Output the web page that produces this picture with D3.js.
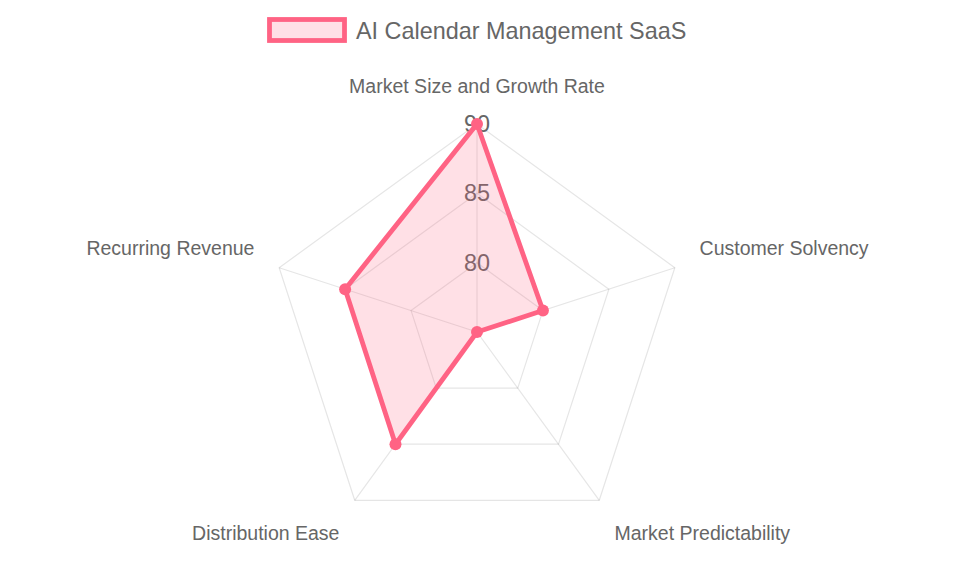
<!DOCTYPE html>
<html>
<head>
<meta charset="utf-8">
<script src="https://cdn.jsdelivr.net/npm/d3@7"></script>
<style>
  html, body { margin: 0; padding: 0; background: #fff; }
  svg { display: block; font-family: "Liberation Sans", Arial, Helvetica, sans-serif; }
</style>
</head>
<body>
<div id="chart"></div>
<script>
// chart data
const seriesName = "AI Calendar Management SaaS";
const categories = ["Market Size and Growth Rate", "Customer Solvency", "Market Predictability", "Distribution Ease", "Recurring Revenue"];
const values = [90, 80, 75, 85, 85];
const ringTicks = [80, 85, 90];
const scaleMin = 75;
const scaleMax = 90;

// SVG definitions
const width = 955;
const height = 573;
const cx = 477;
const cy = 332;
const radius = 208;
const labelGap = 26;

const lineColor = "rgb(255, 99, 132)";
const fillColor = "rgba(255, 99, 132, 0.2)";
const gridColor = "rgba(0, 0, 0, 0.1)";
const textColor = "#666";

const svg = d3.select("#chart").append("svg")
  .attr("width", width)
  .attr("height", height);

const g = svg.append("g")
  .attr("transform", `translate(${cx}, ${cy})`);

// scales
const rScale = d3.scaleLinear().domain([scaleMin, scaleMax]).range([0, radius]);
const angle = d3.scaleLinear().domain([0, categories.length]).range([0, 2 * Math.PI]);

const pointAt = (i, r) => [r * Math.sin(angle(i)), -r * Math.cos(angle(i))];

// grid rings
ringTicks.forEach(t => {
  g.append("polygon")
    .attr("points", categories.map((c, i) => pointAt(i, rScale(t)).join(",")).join(" "))
    .attr("fill", "none")
    .attr("stroke", gridColor)
    .attr("stroke-width", 1.2);
});

// angle lines
categories.forEach((c, i) => {
  const [x, y] = pointAt(i, rScale(scaleMax));
  g.append("line")
    .attr("x1", 0).attr("y1", 0)
    .attr("x2", x).attr("y2", y)
    .attr("stroke", gridColor)
    .attr("stroke-width", 1.2);
});

// tick labels (drawn under the dataset)
g.selectAll(".tick-label")
  .data(ringTicks)
  .join("text")
  .attr("class", "tick-label")
  .attr("x", 0)
  .attr("y", d => -rScale(d))
  .attr("text-anchor", "middle")
  .attr("dominant-baseline", "central")
  .attr("font-size", "23.4px")
  .attr("fill", textColor)
  .text(d => d);

// point labels
const lineH = 19.5 * 1.2;
categories.forEach((c, i) => {
  const deg = (angle(i) * 180 / Math.PI) % 360;
  const [x, y] = pointAt(i, radius + labelGap);
  let anchor = "middle";
  if (Math.abs(deg) > 1 && Math.abs(deg - 180) > 1) anchor = deg < 180 ? "start" : "end";
  let yc = y + lineH / 2;
  if (deg < 90 || deg > 270) yc = y - lineH / 2;
  g.append("text")
    .attr("x", x)
    .attr("y", yc)
    .attr("text-anchor", anchor)
    .attr("dominant-baseline", "central")
    .attr("font-size", "19.5px")
    .attr("fill", textColor)
    .text(c);
});

// dataset area
const radar = d3.lineRadial()
  .angle((d, i) => angle(i))
  .radius(d => rScale(d))
  .curve(d3.curveLinearClosed);

g.append("path")
  .datum(values)
  .attr("d", radar)
  .attr("fill", fillColor)
  .attr("stroke", lineColor)
  .attr("stroke-width", 4.8)
  .attr("stroke-linejoin", "miter");

g.selectAll(".pt")
  .data(values)
  .join("circle")
  .attr("class", "pt")
  .attr("cx", (d, i) => pointAt(i, rScale(d))[0])
  .attr("cy", (d, i) => pointAt(i, rScale(d))[1])
  .attr("r", 6)
  .attr("fill", lineColor);

// legend
const legend = svg.append("g");
legend.append("rect")
  .attr("x", 269.5).attr("y", 19.5)
  .attr("width", 75).attr("height", 21)
  .attr("fill", fillColor)
  .attr("stroke", lineColor)
  .attr("stroke-width", 4.8);
legend.append("text")
  .attr("x", 356)
  .attr("y", 31)
  .attr("dominant-baseline", "central")
  .attr("font-size", "23.4px")
  .attr("fill", textColor)
  .text(seriesName);
</script>
</body>
</html>
